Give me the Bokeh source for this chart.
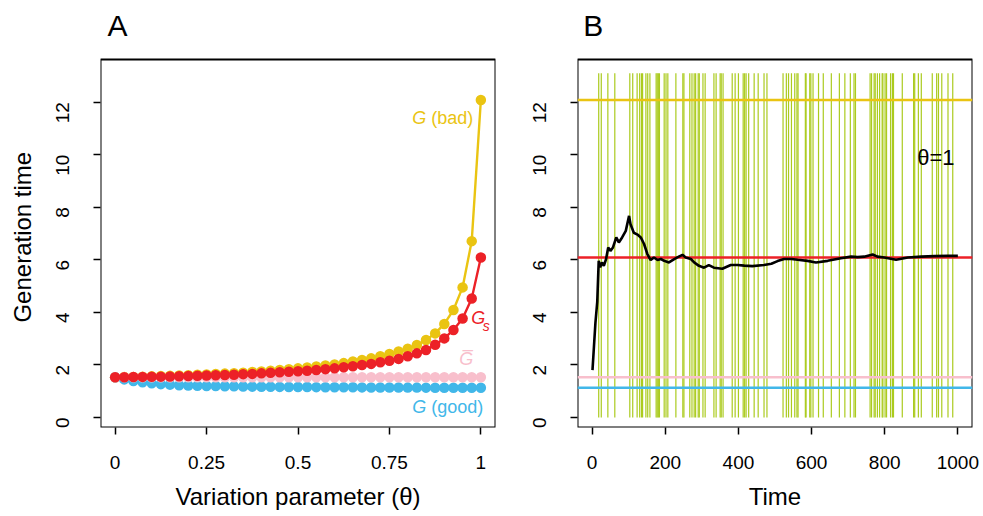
import math
from bokeh.plotting import figure
from bokeh.models import Label, FixedTicker, Range1d
from bokeh.layouts import row
from bokeh.embed import file_html
from bokeh.resources import INLINE

# ---------------- data: panel A ----------------
theta = [0, 0.025, 0.05, 0.075, 0.1, 0.125, 0.15, 0.175, 0.2, 0.225,
         0.25, 0.275, 0.3, 0.325, 0.35, 0.375, 0.4, 0.425, 0.45, 0.475,
         0.5, 0.525, 0.55, 0.575, 0.6, 0.625, 0.65, 0.675, 0.7, 0.725,
         0.75, 0.775, 0.8, 0.825, 0.85, 0.875, 0.9, 0.925, 0.95, 0.975, 1.0]
G_bad = [1.53, 1.54, 1.545, 1.555, 1.565, 1.575, 1.585, 1.60, 1.61, 1.625,
         1.64, 1.655, 1.67, 1.685, 1.705, 1.73, 1.755, 1.78, 1.81, 1.84,
         1.87, 1.90, 1.94, 1.98, 2.02, 2.07, 2.13, 2.19, 2.25, 2.33,
         2.42, 2.51, 2.62, 2.76, 2.95, 3.20, 3.56, 4.09, 4.95, 6.71, 12.08]
G_s = [1.53, 1.535, 1.54, 1.545, 1.55, 1.555, 1.56, 1.57, 1.58, 1.59,
       1.60, 1.61, 1.62, 1.63, 1.65, 1.66, 1.68, 1.70, 1.72, 1.74,
       1.76, 1.78, 1.81, 1.84, 1.87, 1.91, 1.95, 2.00, 2.04, 2.10,
       2.16, 2.23, 2.33, 2.44, 2.57, 2.77, 3.01, 3.33, 3.77, 4.53, 6.09]
G_bar = [1.53] * 41
G_good = [1.53, 1.45, 1.39, 1.34, 1.30, 1.27, 1.25, 1.23, 1.22, 1.21,
          1.20, 1.195, 1.19, 1.185, 1.18, 1.175, 1.17, 1.168, 1.165, 1.162,
          1.16, 1.158, 1.156, 1.154, 1.152, 1.15, 1.148, 1.146, 1.144, 1.142,
          1.14, 1.139, 1.138, 1.137, 1.136, 1.135, 1.134, 1.133, 1.132, 1.131, 1.13]

theta_ticks = [0, 0.25, 0.5, 0.75, 1]
theta_tick_labels = ["0", "0.25", "0.5", "0.75", "1"]
y_ticks = [0, 2, 4, 6, 8, 10, 12]

# ---------------- data: panel B ----------------
bad_times = [18, 25, 43, 62, 103, 111, 123, 130, 135, 138, 147, 152, 158, 175,
             178, 181, 184, 197, 202, 207, 229, 248, 251, 267, 273, 279, 283,
             290, 293, 303, 309, 333, 339, 350, 353, 358, 383, 391, 400, 413,
             417, 421, 428, 443, 454, 470, 478, 522, 531, 537, 545, 554, 560,
             563, 583, 585, 595, 598, 604, 619, 632, 654, 676, 691, 706, 716,
             720, 760, 764, 771, 774, 780, 786, 793, 795, 801, 805, 816, 821,
             824, 848, 879, 882, 892, 900, 930, 942, 947, 956, 973, 986]
run_time = [1, 5, 9, 14, 18, 22, 27, 32, 38, 44, 50, 57, 66, 73, 82, 92, 101,
            105, 114, 124, 133, 142, 151, 160, 169, 179, 188, 197, 210, 220,
            233, 247, 256, 270, 279, 292, 306, 319, 333, 356, 379, 398, 416,
            438, 470, 490, 507, 525, 545, 562, 589, 612, 644, 680, 708, 726,
            744, 767, 780, 799, 831, 863, 900, 936, 973, 1000]
run_gen = [1.8, 2.7, 3.6, 4.4, 5.96, 5.71, 5.9, 5.77, 6.02, 6.47, 6.34, 6.47,
           6.85, 6.66, 6.85, 7.1, 7.67, 7.35, 7.03, 6.96, 6.85, 6.6, 6.22,
           5.99, 6.09, 5.99, 6.03, 5.96, 5.9, 5.99, 6.09, 6.19, 6.09, 6.03,
           5.9, 5.77, 5.7, 5.8, 5.7, 5.66, 5.8, 5.8, 5.78, 5.76, 5.8, 5.85,
           5.95, 6.03, 6.03, 6.0, 5.96, 5.9, 5.96, 6.06, 6.12, 6.1, 6.12,
           6.2, 6.12, 6.09, 6.0, 6.09, 6.12, 6.14, 6.15, 6.15]
time_ticks = [0, 200, 400, 600, 800, 1000]

# ---------------- style ----------------
FONT = "Liberation Sans"
YELLOW = "#EAC412"
RED = "#EC2127"
BLUE = "#41B7E9"
PINK = "#F8BFCC"
GREEN = "#ABCB1E"
H = 516
FRAME_H = 427           # frame covers the panel letter area as well
BOX_Y = (-0.38, 13.62)  # data box (R plot region)
PX_PER_UNIT = 368 / (BOX_Y[1] - BOX_Y[0])
Y_RANGE = (BOX_Y[0], BOX_Y[1] + 59 / PX_PER_UNIT)
LETTER_Y = 14.92
YLAB_W = 40


def style(p, xlabel, box_x):
    p.outline_line_color = None
    p.xgrid.visible = False
    p.ygrid.visible = False
    p.background_fill_color = "white"
    p.border_fill_color = "white"
    p.quad(left=[box_x[0]], right=[box_x[1]], bottom=[BOX_Y[0]], top=[BOX_Y[1]],
           fill_color=None, line_color="black", line_width=2)
    for ax in (p.xaxis[0], p.yaxis[0]):
        ax.axis_line_color = None
        ax.major_tick_line_color = "black"
        ax.major_tick_line_width = 1.5
        ax.major_tick_out = 7
        ax.major_tick_in = 0
        ax.minor_tick_line_color = None
        ax.major_label_text_font = FONT
        ax.major_label_text_font_size = "19px"
        ax.major_label_text_color = "black"
        ax.axis_label_text_font = FONT
        ax.axis_label_text_font_size = "24px"
        ax.axis_label_text_font_style = "normal"
        ax.axis_label_text_color = "black"
    p.xaxis[0].axis_label = xlabel
    p.xaxis[0].major_label_standoff = 21
    p.xaxis[0].axis_label_standoff = 11
    p.yaxis[0].bounds = BOX_Y
    p.yaxis[0].major_label_orientation = math.pi / 2
    p.yaxis[0].major_label_standoff = 31
    p.yaxis[0].ticker = FixedTicker(ticks=y_ticks)


def lab(p, x, y, text, color, size="18px", style_="normal", align="left",
        baseline="middle", x_offset=0, y_offset=0, angle=0):
    p.add_layout(Label(x=x, y=y, text=text, text_color=color,
                       text_font=FONT, text_font_size=size,
                       text_font_style=style_, text_align=align,
                       text_baseline=baseline, x_offset=x_offset,
                       y_offset=y_offset, angle=angle))


# ---------------- y-axis title strip (pixel coordinates) ----------------
pY = figure(width=YLAB_W, height=H, output_backend="svg", toolbar_location=None,
            x_range=Range1d(0, YLAB_W), y_range=Range1d(0, H),
            x_axis_type=None, y_axis_type=None,
            min_border_left=0, min_border_right=0, min_border_top=0,
            min_border_bottom=0)
pY.outline_line_color = None
pY.xgrid.visible = False
pY.ygrid.visible = False
lab(pY, 22, H - 286, "Generation time", "black", size="24px", align="center",
    angle=math.pi / 2)

# ---------------- panel A ----------------
XA = (-0.04, 1.04)
pA = figure(width=517 - YLAB_W, height=H, output_backend="svg", toolbar_location=None,
            x_range=Range1d(*XA), y_range=Range1d(*Y_RANGE),
            min_border_left=100 - YLAB_W, min_border_right=22, min_border_top=0,
            min_border_bottom=H - FRAME_H)
style(pA, "Variation parameter (θ)", XA)
pA.xaxis[0].ticker = FixedTicker(ticks=theta_ticks)
pA.xaxis[0].major_label_overrides = {t: l for t, l in zip(theta_ticks, theta_tick_labels)}

for ys, col in ((G_bad, YELLOW), (G_good, BLUE), (G_bar, PINK), (G_s, RED)):
    pA.line(theta, ys, line_color=col, line_width=2.4)
    pA.scatter(theta, ys, size=10.5, fill_color=col, line_color=None)

lab(pA, 0.8177, 11.4, "G", YELLOW, style_="italic", x_offset=-2)
lab(pA, 0.8177, 11.4, "(bad)", YELLOW, x_offset=17)
lab(pA, 0.979, 3.77, "G", RED, style_="italic", x_offset=-2)
lab(pA, 1.013, 3.50, "s", RED, size="14px", style_="italic", x_offset=-3)
lab(pA, 0.9435, 2.22, "G\u0305", PINK, style_="italic", x_offset=-1)
lab(pA, 0.8177, 0.39, "G", BLUE, style_="italic", x_offset=-2)
lab(pA, 0.8177, 0.39, "(good)", BLUE, x_offset=17)
lab(pA, -0.021, LETTER_Y, "A", "black", size="30px", baseline="alphabetic")

# ---------------- panel B ----------------
XB = (-40, 1040)
pB = figure(width=463, height=H, output_backend="svg", toolbar_location=None,
            x_range=Range1d(*XB), y_range=Range1d(*Y_RANGE),
            min_border_left=60, min_border_right=8, min_border_top=0,
            min_border_bottom=H - FRAME_H)
style(pB, "Time", XB)
pB.xaxis[0].ticker = FixedTicker(ticks=time_ticks)

pB.segment(x0=bad_times, y0=[0] * len(bad_times), x1=bad_times,
           y1=[13.1] * len(bad_times), line_color=GREEN, line_width=1.2)
for yv, col in ((G_bad[-1], YELLOW), (G_s[-1], RED), (G_bar[-1], PINK), (G_good[-1], BLUE)):
    pB.line(x=list(XB), y=[yv, yv], line_color=col, line_width=2.5)
pB.line(run_time, run_gen, line_color="black", line_width=2.6)
lab(pB, 940, 9.89, "θ=1", "black", size="22px", align="center")
lab(pB, -24, LETTER_Y, "B", "black", size="30px", baseline="alphabetic")

layout = row(pY, pA, pB)
open("out.html", "w").write(file_html(layout, INLINE))
